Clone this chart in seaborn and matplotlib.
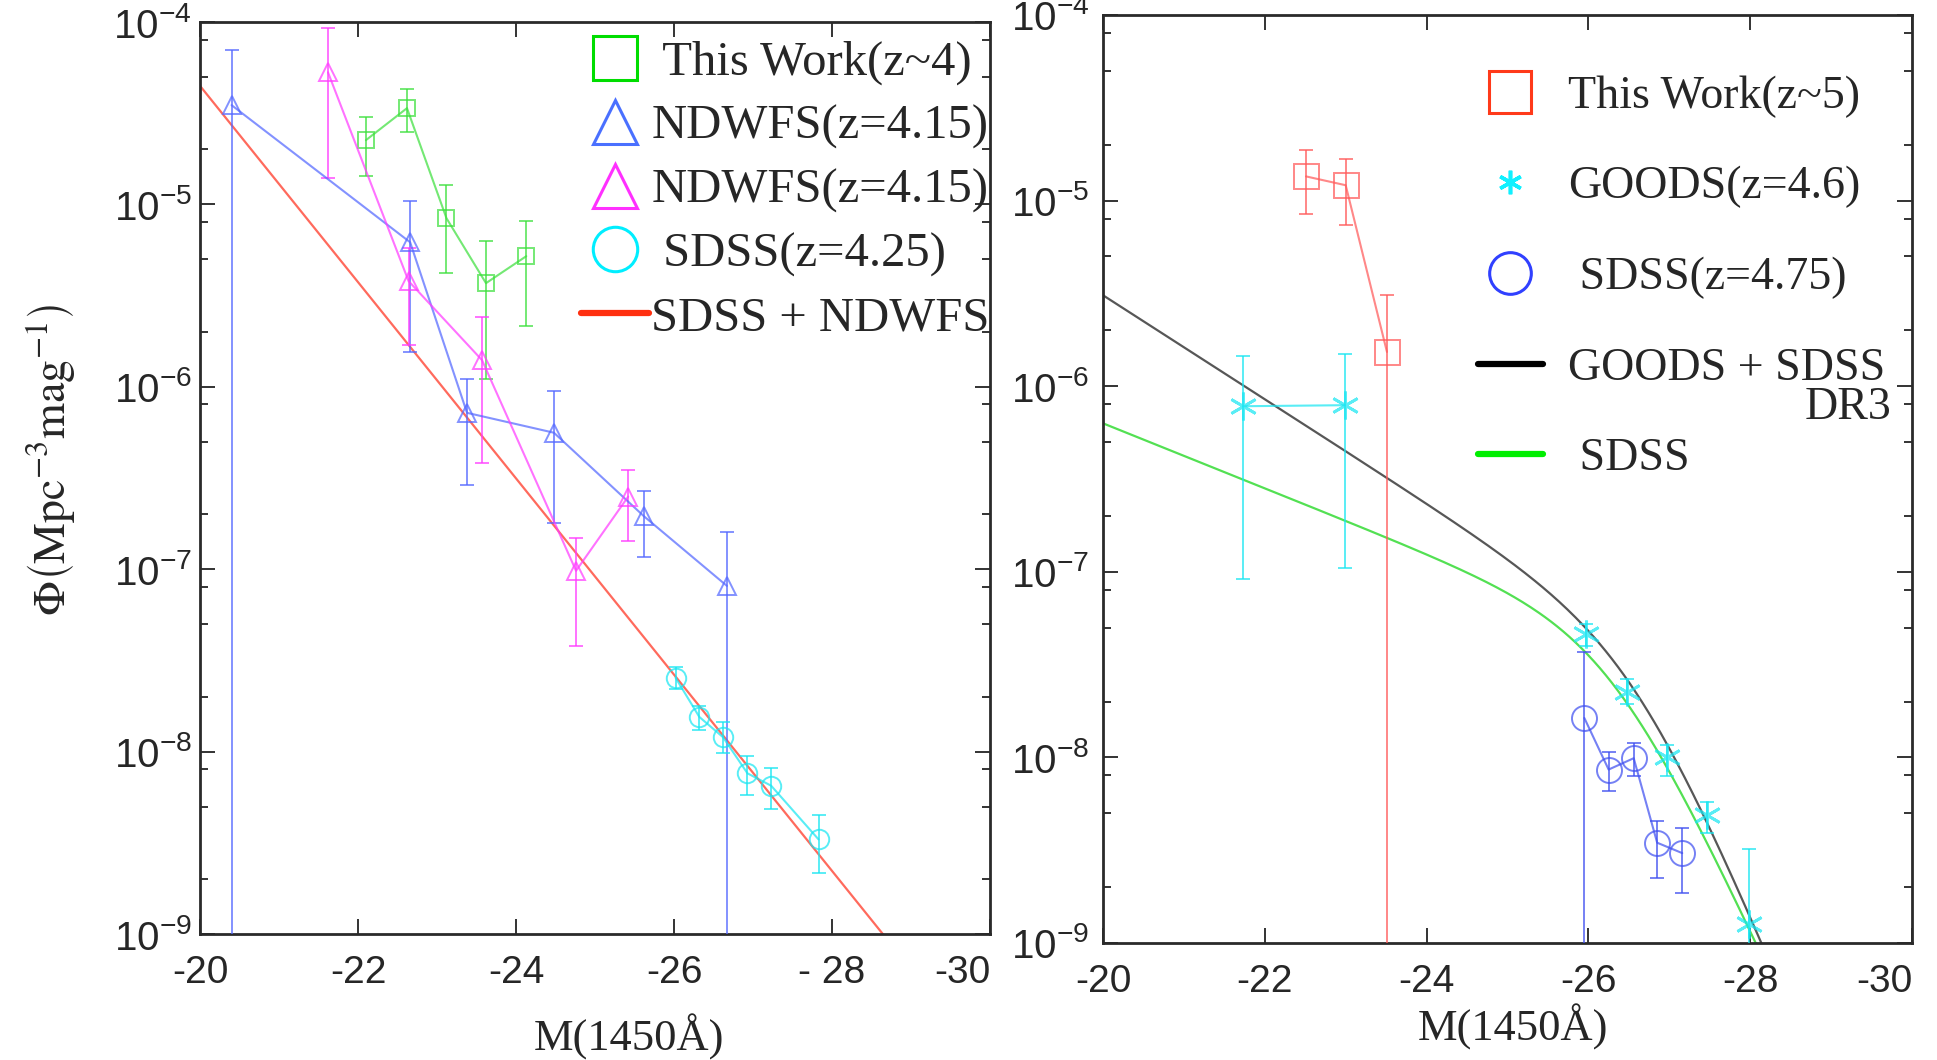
import numpy as np
import matplotlib
matplotlib.use("Agg")
import matplotlib.pyplot as plt
from matplotlib.lines import Line2D
from matplotlib.ticker import LogLocator, FixedLocator, FixedFormatter, FuncFormatter, NullFormatter
import seaborn as sns

# ---------------- z ~ 4 panel ----------------
# This work (z~4)
tw4_M = [-22.10, -22.62, -23.12, -23.62, -24.13]
tw4_phi = [2.25e-5, 3.37e-5, 8.4e-6, 3.7e-6, 5.2e-6]
tw4_hi = [3.0e-5, 4.3e-5, 1.28e-5, 6.3e-6, 8.1e-6]
tw4_lo = [1.44e-5, 2.5e-5, 4.2e-6, 1.1e-6, 2.15e-6]

# NDWFS (z=4.15), first estimate  (lower bound 0 = unbounded)
ndA_M = [-20.40, -22.66, -23.38, -24.48, -25.62, -26.67]
ndA_phi = [3.5e-5, 6.2e-6, 7.2e-7, 5.6e-7, 1.95e-7, 8.1e-8]
ndA_hi = [7.0e-5, 1.05e-5, 1.1e-6, 9.5e-7, 2.7e-7, 1.6e-7]
ndA_lo = [0.0, 1.55e-6, 2.9e-7, 1.8e-7, 1.17e-7, 0.0]

# NDWFS (z=4.15), second estimate
ndB_M = [-21.62, -22.64, -23.57, -24.76, -25.42]
ndB_phi = [5.3e-5, 3.8e-6, 1.4e-6, 9.8e-8, 2.5e-7]
ndB_hi = [9.3e-5, 5.8e-6, 2.4e-6, 1.48e-7, 3.5e-7]
ndB_lo = [1.4e-5, 1.7e-6, 3.8e-7, 3.8e-8, 1.42e-7]

# SDSS (z=4.25)
sd4_M = [-26.02, -26.32, -26.62, -26.93, -27.23, -27.83]
sd4_phi = [2.54e-8, 1.55e-8, 1.2e-8, 7.6e-9, 6.5e-9, 3.3e-9]
sd4_hi = [2.91e-8, 1.78e-8, 1.45e-8, 9.5e-9, 8.1e-9, 4.5e-9]
sd4_lo = [2.20e-8, 1.32e-8, 9.8e-9, 5.8e-9, 4.85e-9, 2.15e-9]

# SDSS + NDWFS single power law: log phi = log_phi_ref + slope * (M - M_ref)
pl_M_ref = -20.0
pl_log_phi_ref = -4.35
pl_slope = 0.538

# ---------------- z ~ 5 panel ----------------
tw5_M = [-22.51, -23.00, -23.51]
tw5_phi = [1.35e-5, 1.21e-5, 1.53e-6]
tw5_hi = [1.87e-5, 1.67e-5, 3.1e-6]
tw5_lo = [8.5e-6, 7.4e-6, 0.0]

# GOODS (z=4.6), faint bins
gdF_M = [-21.73, -22.99]
gdF_phi = [7.8e-7, 7.9e-7]
gdF_hi = [1.45e-6, 1.5e-6]
gdF_lo = [9.1e-8, 1.05e-7]

# GOODS (z=4.6), bright bins
gdB_M = [-25.97, -26.48, -26.97, -27.47, -27.98]
gdB_phi = [4.6e-8, 2.25e-8, 1.0e-8, 4.9e-9, 1.27e-9]
gdB_hi = [5.25e-8, 2.63e-8, 1.17e-8, 5.75e-9, 3.2e-9]
gdB_lo = [3.98e-8, 1.95e-8, 7.9e-9, 3.9e-9, 0.0]

# SDSS (z=4.75)
sd5_M = [-25.95, -26.25, -26.56, -26.85, -27.16]
sd5_phi = [1.63e-8, 8.6e-9, 9.9e-9, 3.47e-9, 3.05e-9]
sd5_hi = [3.7e-8, 1.07e-8, 1.2e-8, 4.57e-9, 4.17e-9]
sd5_lo = [0.0, 6.6e-9, 7.9e-9, 2.24e-9, 1.86e-9]

# Double power-law fits: phi* / (10^{0.4(a+1)(M-M*)} + 10^{0.4(b+1)(M-M*)})
dpl_goods_sdss = dict(log_phi_star=-7.358, M_star=-26.6, alpha=-1.70, beta=-3.625)
dpl_sdss = dict(log_phi_star=-7.3025, M_star=-26.3, alpha=-1.4375, beta=-3.375)

x_ticks = [-20, -22, -24, -26, -28, -30]
x_labels_left = ["-20", "-22", "-24", "-26", "- 28", "-30"]
x_labels_right = ["-20", "-22", "-24", "-26", "-28", "-30"]
y_ticks = [1e-9, 1e-8, 1e-7, 1e-6, 1e-5, 1e-4]

legend_left = [" This Work(z~4)", "NDWFS(z=4.15)", "NDWFS(z=4.15)", " SDSS(z=4.25)", "SDSS + NDWFS"]
legend_right = ["This Work(z~5)", "GOODS(z=4.6)", " SDSS(z=4.75)", "GOODS + SDSS", " SDSS"]

# ---------------- style ----------------
sns.set_theme(style="ticks")
plt.rcParams["font.family"] = ["Liberation Sans", "DejaVu Sans"]
plt.rcParams["mathtext.fontset"] = "stix"

SERIF = ["Liberation Serif", "DejaVu Serif"]
GREEN = "#3ee03e"
BLUE = "#5468ff"
MAGENTA = "#ff3cff"
CYAN = "#19e6f2"
RED_FIT = "#ff5040"
RED = "#ff5a5a"
BLUE5 = "#4050f0"
BLACK = "#3a3a3a"
GREEN_FIT = "#40dd40"
ALPHA = 0.72

fig = plt.figure(figsize=(19.37, 10.60), dpi=100)
axL = fig.add_axes([200 / 1937, 1 - 934 / 1060, 790 / 1937, 912 / 1060])
axR = fig.add_axes([1103 / 1937, 1 - 943 / 1060, 809 / 1937, 928 / 1060])


def series(ax, M, phi, lo, hi, color, marker, ms, connect=True, mew=1.4):
    M = np.asarray(M)
    phi = np.asarray(phi)
    lo = np.asarray(lo)
    hi = np.asarray(hi)
    ax.errorbar(M, phi, yerr=[phi - np.where(lo > 0, lo, 1e-14), hi - phi], fmt="none",
                ecolor=color, elinewidth=1.4, capsize=5, capthick=1.4, alpha=ALPHA, zorder=3)
    sns.lineplot(x=M, y=phi, ax=ax, color=color, marker=marker, markersize=ms,
                 markerfacecolor="none", markeredgecolor=color, markeredgewidth=mew,
                 linewidth=1.5 if connect else 0, linestyle="-" if connect else "none",
                 alpha=ALPHA, sort=False, estimator=None, zorder=4)


def dpl(M, p):
    d = M - p["M_star"]
    return 10 ** p["log_phi_star"] / (10 ** (0.4 * (p["alpha"] + 1) * d) + 10 ** (0.4 * (p["beta"] + 1) * d))


def style_axes(ax, xlabels, ypad, xlabel_xy):
    ax.set_yscale("log")
    ax.set_xlim(-20, -30)
    ax.set_ylim(1e-9, 1e-4)
    ax.xaxis.set_major_locator(FixedLocator(x_ticks))
    ax.xaxis.set_major_formatter(FixedFormatter(xlabels))
    ax.yaxis.set_major_locator(FixedLocator(y_ticks))
    ax.yaxis.set_major_formatter(FuncFormatter(lambda v, p: r"$\mathregular{10^{%d}}$" % round(np.log10(v))))
    ax.yaxis.set_minor_locator(LogLocator(base=10, subs=[2, 5, 8]))
    ax.yaxis.set_minor_formatter(NullFormatter())
    ax.tick_params(which="both", direction="in", top=True, right=True, color="#333333", width=1.4)
    ax.tick_params(which="major", length=11)
    ax.tick_params(which="minor", length=6)
    ax.tick_params(axis="x", labelsize=28, pad=15)
    ax.tick_params(axis="y", labelsize=29, pad=ypad)
    for s in ax.spines.values():
        s.set_linewidth(2.0)
        s.set_color("#2a2a2a")
    ax.set_xlabel("M(1450Å)", family=SERIF, fontsize=32)
    ax.xaxis.set_label_coords(*xlabel_xy)
    fig.canvas.draw()
    ax.get_xticklabels()[-1].set_horizontalalignment("right")


# ---------------- left panel ----------------
style_axes(axL, x_labels_left, 6, (0.543, -0.088))
Mgrid = np.linspace(-20, -30, 400)
sns.lineplot(x=Mgrid, y=10 ** (pl_log_phi_ref + pl_slope * (Mgrid - pl_M_ref)), ax=axL,
             color=RED_FIT, linewidth=1.6, alpha=0.85, estimator=None, sort=False, zorder=2)
series(axL, tw4_M, tw4_phi, tw4_lo, tw4_hi, GREEN, "s", 12)
series(axL, ndA_M, ndA_phi, ndA_lo, ndA_hi, BLUE, "^", 13)
series(axL, ndB_M, ndB_phi, ndB_lo, ndB_hi, MAGENTA, "^", 13)
series(axL, sd4_M, sd4_phi, sd4_lo, sd4_hi, CYAN, "o", 14)
axL.set_ylabel(r"$\Phi\left(\mathrm{Mpc^{-3}mag^{-1}}\right)$", fontsize=33)
axL.yaxis.set_label_coords(-0.155, 0.52)

hL = [Line2D([], [], ls="none", marker="s", ms=31, mfc="none", mec="#00dd00", mew=2.2),
      Line2D([], [], ls="none", marker="^", ms=32, mfc="none", mec="#4a70ff", mew=2.2),
      Line2D([], [], ls="none", marker="^", ms=32, mfc="none", mec="#ff30ff", mew=2.2),
      Line2D([], [], ls="none", marker="o", ms=32, mfc="none", mec="#00eeff", mew=2.2),
      Line2D([], [], color="#ff3010", lw=4.5)]
legL = axL.legend(hL, legend_left, loc="upper right", bbox_to_anchor=(1.012, 0.99), frameon=False,
                  prop={"family": SERIF, "size": 35}, handlelength=1.4, handletextpad=0.05,
                  labelspacing=0.40, borderpad=0.2, borderaxespad=0.0)

# ---------------- right panel ----------------
style_axes(axR, x_labels_right, 10, (0.507, -0.066))
sns.lineplot(x=Mgrid, y=dpl(Mgrid, dpl_goods_sdss), ax=axR, color=BLACK, linewidth=1.6,
             alpha=0.85, estimator=None, sort=False, zorder=2)
sns.lineplot(x=Mgrid, y=dpl(Mgrid, dpl_sdss), ax=axR, color=GREEN_FIT, linewidth=1.6,
             alpha=0.9, estimator=None, sort=False, zorder=2)
series(axR, tw5_M, tw5_phi, tw5_lo, tw5_hi, RED, "s", 18)
series(axR, gdF_M, gdF_phi, gdF_lo, gdF_hi, CYAN, (6, 2, 0), 20, mew=2.0)
series(axR, gdB_M, gdB_phi, gdB_lo, gdB_hi, CYAN, (6, 2, 0), 20, connect=False, mew=2.0)
series(axR, sd5_M, sd5_phi, sd5_lo, sd5_hi, BLUE5, "o", 18)

hR = [Line2D([], [], ls="none", marker="s", ms=30, mfc="none", mec="#ff3a1a", mew=2.2),
      Line2D([], [], ls="none", marker=(6, 2, 0), ms=17, mec="#10f0ff", mew=2.6),
      Line2D([], [], ls="none", marker="o", ms=30, mfc="none", mec="#3040ff", mew=2.2),
      Line2D([], [], color="black", lw=4.5),
      Line2D([], [], color="#00ee00", lw=4.5)]
legR = axR.legend(hR, legend_right, loc="upper right", bbox_to_anchor=(0.978, 0.945), frameon=False,
                  prop={"family": SERIF, "size": 33}, handlelength=1.4, handletextpad=0.55,
                  labelspacing=1.05, borderpad=0.2, borderaxespad=0.0)
axR.text(0.975, 0.5765, "DR3", transform=axR.transAxes, ha="right", va="center",
         family=SERIF, fontsize=33)

fig.savefig("out.png", dpi=100)
